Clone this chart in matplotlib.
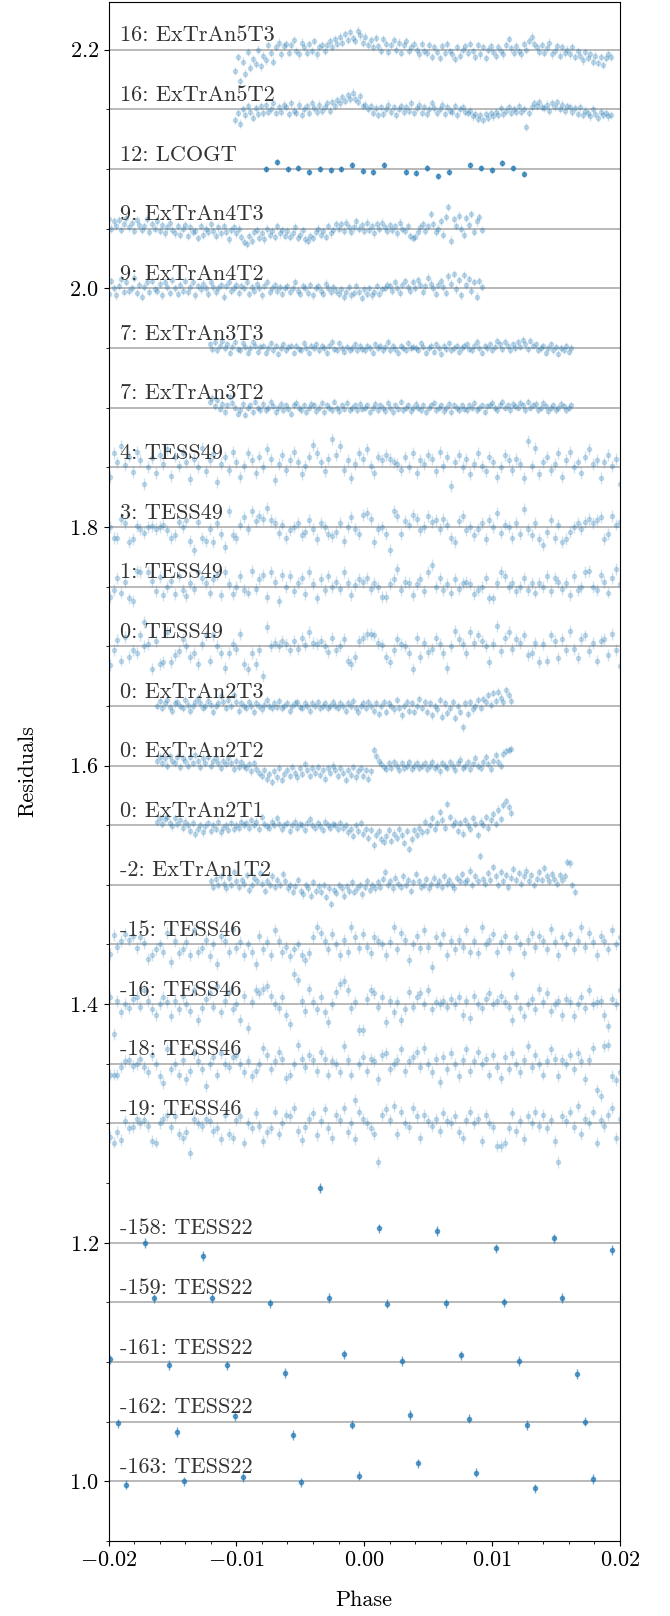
import numpy as np
import matplotlib
matplotlib.use("Agg")
import matplotlib.pyplot as plt
from matplotlib.ticker import MultipleLocator

plt.rcParams['font.family'] = ['cmr10', 'DejaVu Serif']
plt.rcParams['mathtext.fontset'] = 'cm'
plt.rcParams['axes.formatter.use_mathtext'] = True
plt.rcParams['font.size'] = 16

# residuals in ppt (1e-3)
ex5t3 = [-18, -6, -26, -10, -20, -2, -15, -8,
         -12, 0, -14, -5, -9, 4, -3, -10, 2, 6, -4, 3,
         5, -3, 4, 8, -1, -4, 6, 2, -3, 5, -1, 7, -4, 2, 4,
         -1, 4, 7, 2, 9, 5, 11, 6, 13, 8, 15, 10, 7, 16, 12, 6, 11, 4,
         8, 2, 10, 3, -1, 9, 5, -2, 4, 8, 0, 6, -3, 4, 7, -1, 2, 5,
         0, -4, 5, -1, -3, 4, -6, 2, -2, -7, 3, -3, 5, -1, -4, -8, 2, -5, 0, 3,
         -3, 5, -1, -6, 4, -4, 2, -7, 0, 3, -2, -5, 2, -1, -4, 4, 9, 1, -3, 3,
         -1, -4, 5, 0, 7, 11, 5, 2, -2, 4, -3, 1, 6, -4, -1, 3, -5, 2, -3, 0,
         -4, 2, -6, -1, -5, -9, -2, -7, -4, -10, -5, -11, -6, -13, -7, -4, -6]
ex5t2 = [-9, -3, -12, 0, -5, 3, -2, -7,
         1, -4, 3, -3, 4, -2, 0, 5, -3, 2, -2, 4,
         2, -4, 5, -1, -3, 4, -5, 0, 3, -3, 5, 1, -2, 4, -1,
         2, 5, -1, 6, 3, 8, 5, 10, 7, 12, 9, 14, 9, 6, 11, 3, 4, 0,
         3, -3, 1, -5, 2, -4, 0, 4, -2, 2, -5, 0, 3, -2, 2, -1, 5, -3,
         1, 4, -3, 2, -4, 0, 5, 1, -3, 0, 4, -4, 2, -1, -2, 3, -5, 0, 2, -2,
         -3, -1, -6, -4, -8, -5, -9, -4, -7, -3, -6, -2, -5, 1, -4, -1, 2, -3, 0, -2,
         3, -2, 0, -15, -3, 2, 5, 3, 6, 2, 1, 4, -1, 5, 2, 6, 0, 4, -1, 3,
         2, -2, 1, -4, 2, -5, -1, -3, -6, 0, -4, -7, -2, -5, -3, -6, -5]
lco = [0, 5.6, 0, 1.1, -2.5, 0, -1.1, 0.3, 3.6, -2.0, -2.8, 3.6, np.nan,
       -2.5, -3.6, 0.6, -5.9, -2.5, np.nan, 3.6, 0.6, -0.8, 4.8, 0.8, -4.2]
ex4t3 = [4, 8, 0, 6, 2, 7, -1, 4, 9, 1, 5, -2, 7, 3, -1, 2, 8, -3, 4, 0, 6, -2, 3, -4, 1, 5,
         -1, -4, 2, -5, 0, 3, -6, 1, -3, -2, -8, 2, -5, 0, -3, 4, -2, -6, 1, -4, 2, -3, -9, -1, 1,
         -4, 0, -7, -11, -13, -6, -10, -3, -1, -8, -4, -9, 0, -5, -2, -7, 2, -4, -1, -6,
         -2, -7, -4, 1, -8, -5, -1, -9, -10, -6, -8, -3, 0, -5, -2, -7, 2, -4, -1, 4,
         0, 4, -2, 5, 1, -3, 1, 6, 0, 3, -2, 5, -1, 2, -4, 4, 0, 5, 1, -2,
         3, -1, 2, -4, 5, 0, -2, 2, -6, -8, -7, -3, 1, 4, -2, 2, 12, 4, -3, 0,
         6, -5, 10, 18, -10, 8, 2, 11, 0, -5, 9, 3, 12, -3, 6, 10, -1]
ex4t2 = [3, -5, 6, 0, -6, 2, 8, -3, 5, -2, 0, 9, -4, 3, -7, 1, 5, -3, 6, -1, -2, 4, -6, 5, 1, -4,
         7, 0, -5, 3, -2, 6, -3, 1, 5, -6, 2, -1, 4, 0, -5, 5, 1, -3, 0, 3, -7, 2, 5, -2, 0,
         3, -4, 2, 0, 5, -5, 1, -2, 4, 0, -6, 2, 5, -3, 0, 3, -2, 1, -5, 0,
         2, -3, 0, 5, -2, -5, 2, 0, -4, 3, -6, 0, 2, -2, -5, 4, 0, -3, 1, -2,
         -5, -1, -7, -3, 1, -6, -4, 2, -3, -8, -1, -5, 0, -6, -3, 2, -5, -1, 0, 3,
         2, -2, 5, 0, -4, 3, 6, 1, -2, 5, 0, 7, 3, -3, 2, 9, 4, 0, -5, 3,
         6, 1, -4, 10, 4, 12, -1, 7, -6, 11, 3, 8, -2, 5, -7, 6, 1]
ex3t3 = [3, -1, 5, -2, 2, 6, 0, 3, -4, 1, 5, -1, -2, 4, 1, -4, 0, 5, 2, -3, 1,
         2, -4, 0, 4, -2, 2, -5, 0, 3, -2, 1, 2, -4, 2, -1, -2, 4, 0, -4, 2,
         0, 3, -2, 2, 0, -4, 2, 5, -1, -2, 4, 0, -3, 1, -2, 0, 3, -2, 2, -1,
         -2, 2, 0, -4, 3, 0, 2, -2, 1, 5, -2, 2, -1, -4, 2, 0, -2, 4, 0, 1,
         0, -2, 4, 1, -4, 0, 2, -3, 3, 0, -5, 2, -1, 4, -2, 0, 2, -3, 0, 2,
         3, -1, -2, 2, 5, 0, -4, 2, 0, 3, -2, 1, 6, 3, -1, 5, 2, -2, 3, 0,
         5, 1, 7, 3, -1, 6, 2, 3, -2, 0, 2, -4, 0, 3, -2, 1, -5, 0, -2, 2, -3, 0]
ex3t2 = [5, 8, 1, 6, -1, 3, -4, 2, 9, 4, 0, -5, -2, 3, -6, 0, 2, -4, 5, 0, -2,
         3, -2, 0, 5, 1, -4, 0, 3, -2, 2, -1, -5, 2, 4, 0, -2, 2, -4, 0, 3,
         2, -3, 0, 4, -4, 2, 0, -2, 5, 0, -3, 2, -1, 4, -2, 0, 2, -2, 3, -1,
         0, 2, -4, 0, 3, -2, 2, 0, -3, 4, 0, -4, 2, -1, 5, -2, 0, 2, -3, 0,
         3, 0, -2, 2, -4, 0, 2, 4, -2, 0, 2, -3, 0, 3, -4, 2, 0, -2, 2, -1,
         -2, 2, 0, 4, -2, 0, 2, -4, 1, 2, 4, 0, -2, 2, 5, 0, 2, -2, 3, 1,
         0, 4, 2, -2, 5, 0, 2, 3, -2, 0, 4, 1, -3, 0, 2, -2, 0, 3, 1, -2, 0, 2]
t49_4 = [-8, 12, 4, 18, 2, 9, -4, 13, 6, -14, 0, 8, -5, 10, 3, 15, -7, 9, 1, 12, 4, -10, 7, 0,
         16, -3, 6, 11, -12, 3, 9, -2, 13, 4, -8, 1, 12, 6, -5, 9, 0, 15, 7, -11, 3, 10, -2, 6,
         13, 4, -6, 1, 9, 19, 12, 4, -3, 7, 24, 10, 18, -2, 6, -9, 3, 12, 7, 15, 1, -5, 9, 6, 10,
         7, 4, 3, -2, 9, 0, 12, -5, 6, 3, 10, 7, -3, 13, 1, 9, -16, 4, 10, 0, 7, -6, 3, 12, 1, -3,
         9, 4, -8, 0, 10, 6, -2, 7, 3, -9, 22, 1, 16, -6, 4, 9, -2, 3, 12, -8, 6, 13, 0, 4, -5, 9,
         15, 3, 6, -9, 4, 10, 1, 7, -14]
t49_3 = [0, -9, -9, 7, 3, -13, -10, 1, -2, -5, 0, 1, -2, 0, 2, -3, -9, -7, 4, 0, 6, -12, -19, 4,
         -9, -12, -2, -13, 3, -6, -17, 13, -7, -9, 2, 8, -2, 13, 5, 9, 7, 16, 6, 3, -5, 2, -9, -3,
         0, 3, -7, -4, 6, -2, -10, 3, 0, -6, -8, -4, 3, -12, 0, 8, -2, -6, 10, 12, 7, -13, -2, 0,
         -6, -19, 13, 9, -6, 5, 2, 10, 7, -3, 0, 9, 4, 6, -2, 7, 2, -9, -13, 5, 9, -3, 0, -7, -2,
         3, -10, 6, 0, 12, -5, 2, 0, -9, 3, -6, 15, -2, -7, 3, -10, -15, -4, 6, -9, 2, -13, -10,
         -4, 0, 3, -2, 4, 7, 3, 6, 8, -10, -6, 9, 2, 4]
t49_1 = [-9, -3, 7, -5, 4, -10, -12, 13, 12, -30, 12, 5, -4, 8, -7, 0, 5, -6, 9, -3, -8, 3, -2,
         12, 7, 3, -5, 6, 10, -7, 12, 2, -6, 0, 9, -3, -5, 13, -2, 6, 10, -9, 12, 4, -12, 10, 0,
         9, -4, 3, 7, -6, 12, 2, -10, 6, -3, 9, 0, 4, -2, 12, 3, -7, 1, 6, 4, 7, -2, 3, 0, -9, -9,
         2, 6, 15, -3, 4, 3, -7, 2, 6, -4, 12, 18, 0, 7, -3, 2, -5, 6, -2, 3, 4, 2, -6, -3, 0, 7,
         -10, -10, 3, 12, 9, 0, 3, -4, 0, 7, -3, 3, -5, 3, 0, 9, -4, 7, 4, -2, 3, -7, 9, -3, 0,
         12, 13, 0, -3, 10, 4, -5, 7, 15, 2]
t49_0 = [-16, -3, 5, -12, 8, -9, -3, -6, 9, 0, 2, -19, 4, -15, -13, 12, -13, -7, -4, 6, 0, -9,
         -6, -15, 2, 9, -12, 9, 0, -6, -18, -6, 2, -2, 10, -15, -19, -6, -15, -3, -25, 16, 0, 3, 0,
         4, 2, -3, 4, -2, 7, 1, 12, 3, 2, 4, 0, -5, 7, -3, 0, 6, -12, -15, -9, 4, 7, 10, 10, 9, 3,
         1, -9, -13, -3, 6, 2, 0, -6, -19, 7, -9, 3, -5, -2, 7, 2, -6, -18, 0, 13, 6, 2, -6, 12, 3,
         9, 4, 0, -13, 2, 17, -4, 7, 12, -2, 6, 3, 9, -7, -6, 3, -13, 2, -12, 9, 4, -10, 6, -3,
         13, -2, -10, 6, 9, -4, 3, -12, 4, 6, -7, 10, -3, -17]
ex2t3 = [0, 4, -2, 2, 5, -1, -4, 2, 3, 0, -2, 5, 1, -4, 0, 3, 7, 2, -2, 0, 4, 1, -5, 0, 2, 8, 3,
         -2, 5, 0, 9, 3, -4, 2, 0,
         -2, 3, 0, -5, 2, 0, -3, 1, 5, 0, -2, 2, -1, 4, -2, 0, 2, -4, 0, 2, 3, -1, -2, 2, 0, -4, 2,
         0, 3, -2, 0, 2, -2, 0, 3,
         0, -2, 2, 0, -4, 2, 0, 4, -2, -5, 0, 2, -2, 3, 0, -4, 2, -7, 0, 3, -5, 2, 0, -3, 5, -2,
         -8, 0, 3, -4, 2, -5, 0, 6, -2,
         3, -5, 2, -8, 0, -3, 5, -9, 2, -6, -2, 3, -10, 0, -5, -18, 2, -7, 3, -3, 0, 5, -2, 6, 3,
         9, 1, 11, 4, 12, 7, 3, 13, 9, 4]
ex2t2 = [4, 7, 2, 6, 0, 8, 4, 2, 7, -1, 6, 4, 0, 7, 2, 9, 4, -1, 6, 2, 7, 0, 4, 6, 2, -2, 4, 1,
         6, 2, -3, 4, -1, 3, 0,
         -2, 1, -5, 2, -3, -6, -9, -4, -11, -7, -14, -5, -10, -2, -12, -7, -4, -9, -1, -6, -10,
         -2, -7, 1, -4, -9, -2, -6, -1, -8, -4, -11, -2, -6, 0,
         -4, -9, -2, -6, -12, -4, -8, -1, -10, -5, -2, -9, -4, -11, -5, 13, 8, 4, 1, -1, -3, 2,
         -2, 3, 0, -4, 2, -2, 0, 3, -3, 0, 2, -2, 0,
         2, -3, 0, 3, -2, 0, -5, 2, 0, -2, 3, 0, -4, 2, 5, -2, 0, 3, -3, 1, 6, 0, -2, 3, 7, 1, -3,
         4, 9, 3, 0, 10, 12, 13, 14]
ex2t1 = [3, 6, 1, 5, 7, 2, -1, 6, 1, 4, -2, 3, 0, -5, 2, -7, -3, 0, -6, -1, 2, -5, 0, -3, 3, -6,
         -2, 0, -4, 2, -3, 0, -2, 3, 0,
         2, -2, 4, 0, 3, -3, 7, 1, -1, -2, 3, 0, 6, 1, -3, 0, 2, -5, 0, 3, -2, 1, 0, -4, 2, 5, 0,
         -2, 2, -1, -4, 3, 0, -2, 1,
         0, -3, 2, -2, 0, -6, -3, -9, 0, -5, 2, -7, -3, -11, -4, -17, -8, -5, -12, -14, -9, -4,
         -13, -7, -11, -3, -8, -15, -5, -20, -12, -4, -8, -2, -6,
         3, -5, 0, 6, -3, 2, 11, 4, -2, 18, 7, 0, 3, -5, 2, -7, 4, 0, -3, 6, 1, -8, 3, 0, 7, -2, 4,
         9, 1, 13, 5, 17, 20, 15, 10]
ex1t2 = [3, -2, 5, 0, 7, 1, -3, 6, 0, 11, 3, -2, 4, 1, 8, -4, 0, 6, 3, 10, 1, -5, 3, 0, 7, -2,
         4, 0, 9, 3,
         -3, 0, -6, -1, 4, -5, -8, 0, -3, -9, 2, -5, -1, -6, 0, -10, -3, -16, -4, -7, 0, -3, -9,
         -1, -5, 2, -6, -3, 0, -8, -2, 3, -4, 0, -3,
         2, -2, 5, 11, 0, 3, -3, 6, 1, -2, 7, 0, 4, -5, 2, 9, 3, -2, 0, 5, -3, 1, 6, 0, 3, -2, 7,
         1, 4, 0, -3, 6, 3, 9, 2,
         4, 12, 0, 7, 3, 24, 5, 1, 10, 4, 15, 7, 0, 11, 3, 8, -2, 6, 13, 4, 10, 1, 7, 12, 3, 8, 0,
         5, 11, 4, 14, 7, 3, 9, 5, 1, 8, 4, 7, 19, 18, 0, -6]
t46_15 = [-8, 8, -2, 3, 9, 4, 7, -3, 6, 1, -12, -9, -4, 0, -6, 10, -15, 3, -7, -4, 2, -9, 12, -6,
          -3, 4, -10, 0, -16, 7, 3, -6, 13, -3, 2, -9, 0, -6, -16, 7, -4, 2, -9, 12, 3, -6, -2,
          -10, -4, 0, -9, -13, -7, 6, 15, 10, 3, -4, 9, 0, -9, 4, -6, 15, 6, -3, 9, -2, -7, 6, 3,
          0, -9, 2, 15, -4, 10, 4, -13, 0, 7, -3, 12, -2, -19, 6, 0, 9, -9, 3, -4, 4, -2, 12, -6,
          3, -7, 15, 0, 4, 9, -6, 2, 7, -3, -25, 6, 0, -7, 4, 10, -2, 7, 3, -4, 13, 2, -9, 6, 0, 9,
          -4, 3, 15, -2, 10, 2, -9, 7, 3, -4, 12, 0, 6]
t46_16 = [6, -25, 3, -7, 0, -3, 4, 6, -2, 12, 3, -4, -9, 0, 6, 2, -10, 3, -4, 7, 0, -6, 12, -13,
          -3, 4, 9, -2, 15, -7, 3, 10, -4, 0, -13, 7, -20, 2, 12, 9, 13, 15, 7, 0, -3, 6, -9, -17,
          25, 20, 3, -6, 13, 2, -4, 6, -7, -15, 0, 10, 17, 19, 12, -3, 2, -22, -22, 4, 12, 9, -2,
          6, -15, 3, -7, 2, -13, -4, 10, -2, 6, 9, 0, 12, -4, 2, 0, 3, -2, 4, 0, 6, -9, 3, -12, 7,
          0, -3, 4, 9, 0, 3, 7, 2, -2, -13, 6, -3, -10, 0, 4, -4, 13, 2, 9, -6, 0, 3, -9, 4, 2, -10,
          0, 6, -3, 12, 0, 2, 3, -9, -18, 4, 0, 12]
t46_18 = [-9, -9, -9, -3, 2, 3, -2, 0, 4, -3, -7, 7, 0, -10, -16, 12, -4, 0, -9, 3, -13, -6, 9, 2,
          -4, -19, 0, 6, -9, 9, 0, -3, 6, 7, 0, -7, 2, -10, -6, 0, 13, 7, -4, 2, 10, 4, -12, -9, 0,
          16, 4, -3, 7, 3, -6, 10, 4, -9, 2, 0, -7, 15, 3, -9, -30, 0, 6, -6, 4, 2, -13, 7, 9, -4,
          0, 3, 12, -6, 2, 6, 10, -3, 13, 0, -7, 4, -15, 6, -4, 9, 0, -10, 3, 12, -6, 2, 10, 0, 4,
          -9, 7, -3, -12, 6, -4, 9, 0, -7, 3, 15, -3, 7, 0, -9, 2, 12, 4, -10, 3, 0, 7, -4, 9, 2,
          -13, 3, 13, -22, -27, 15, 16, -10, -14, -7]
t46_19 = [-11, -16, -7, -14, 2, -4, -3, 4, 0, 3, -2, -15, -16, 0, 4, 7, -3, 6, -9, -12, -7, -25,
          4, 0, -2, 4, 2, -6, -4, -13, 7, -9, -12, 3, 6, -16, 0, -4, 9, -2, -15, -7, -4, 10, -9, 0,
          7, 6, 13, -6, -14, -3, 4, 9, -10, 2, 12, -4, -12, 7, 3, 13, -7, 0, -13, 10, 4, 0, -4, -9,
          -32, 7, 12, 3, 15, -9, 10, 0, -3, 13, 6, -12, 7, 2, -2, 4, -6, 9, 2, 0, 6, -7, -12, 3, 10,
          0, 4, -15, 7, 0, -3, -19, -19, -16, -4, 9, -6, 2, -13, 6, 0, 10, -2, 7, -4, 3, -15, -32,
          6, 2, 10, -3, 15, -9, 4, 0, 10, -16, 3, -2, 7, 13, -12, 4]
t22_158 = [0, -11.2, np.nan, 46, 12, 9.8, -4.8, 3.6, -6.1]
t22_159 = [3.4, 3.6, -0.8, 3.6, -1.1, -0.8, 0, 3.6]
t22_161 = [2.2, -2.5, -2.8, -9.2, 6.4, 0.8, 5.6, 0.8, -10.1]
t22_162 = [-1.4, -8.4, 4.5, -11.2, -2.5, 5.6, 2.5, -2.8, 0]
t22_163 = [-2.8, 0, 3.4, -0.8, 4.8, 15.1, 7.3, -5.9, 2.2]

# label, offset, residuals, first phase, last phase, error (ppt), dark
rows = [
    ("16: ExTrAn5T3", 2.20, ex5t3, -0.0101, 0.0193, 3.5, False),
    ("16: ExTrAn5T2", 2.15, ex5t2, -0.0101, 0.0193, 3.5, False),
    ("12: LCOGT", 2.10, lco, -0.00767, 0.01249, 2.5, True),
    ("9: ExTrAn4T3", 2.05, ex4t3, -0.0202, 0.0092, 3.5, False),
    ("9: ExTrAn4T2", 2.00, ex4t2, -0.0202, 0.0092, 3.5, False),
    ("7: ExTrAn3T3", 1.95, ex3t3, -0.0121, 0.0162, 3.0, False),
    ("7: ExTrAn3T2", 1.90, ex3t2, -0.0121, 0.0162, 3.0, False),
    ("4: TESS49", 1.85, t49_4, -0.0199, 0.0200, 5.0, False),
    ("3: TESS49", 1.80, t49_3, -0.0199, 0.0200, 5.0, False),
    ("1: TESS49", 1.75, t49_1, -0.0199, 0.0200, 5.0, False),
    ("0: TESS49", 1.70, t49_0, -0.0199, 0.0200, 5.0, False),
    ("0: ExTrAn2T3", 1.65, ex2t3, -0.0162, 0.0115, 3.5, False),
    ("0: ExTrAn2T2", 1.60, ex2t2, -0.0162, 0.0115, 3.5, False),
    ("0: ExTrAn2T1", 1.55, ex2t1, -0.0162, 0.0115, 3.5, False),
    ("-2: ExTrAn1T2", 1.50, ex1t2, -0.0120, 0.0165, 3.5, False),
    ("-15: TESS46", 1.45, t46_15, -0.0199, 0.0200, 5.0, False),
    ("-16: TESS46", 1.40, t46_16, -0.0199, 0.0200, 5.0, False),
    ("-18: TESS46", 1.35, t46_18, -0.0199, 0.0200, 5.0, False),
    ("-19: TESS46", 1.30, t46_19, -0.0199, 0.0200, 5.0, False),
    ("-158: TESS22", 1.20, t22_158, -0.01714, 0.01942, 4.0, True),
    ("-159: TESS22", 1.15, t22_159, -0.01648, 0.01552, 4.0, True),
    ("-161: TESS22", 1.10, t22_161, -0.01987, 0.01669, 4.0, True),
    ("-162: TESS22", 1.05, t22_162, -0.01924, 0.01732, 4.0, True),
    ("-163: TESS22", 1.00, t22_163, -0.01865, 0.01791, 4.0, True),
]

fig = plt.figure(figsize=(6.7, 16.16), dpi=100)
ax = fig.add_axes([0.162, 0.0464, 0.763, 0.9524])

for label, off, vals, x0, x1, err, dark in rows:
    y = np.array(vals, dtype=float) * 1e-3 + off
    x = np.linspace(x0, x1, len(y))
    ax.axhline(off, color='0.68', lw=1.2, zorder=1)
    ax.errorbar(x, y, yerr=err * 1e-3, fmt='o', color='C0', ms=3, elinewidth=1,
                alpha=0.65 if dark else 0.22, zorder=2)
    ax.text(-0.0191, off + 0.007, label, color='#333333', fontsize=16,
            va='baseline', zorder=3)

ax.set_xlim(-0.02, 0.02)
ax.set_ylim(0.95, 2.24)
ax.xaxis.set_major_locator(MultipleLocator(0.01))
ax.xaxis.set_minor_locator(MultipleLocator(0.002))
ax.yaxis.set_major_locator(MultipleLocator(0.2))
ax.yaxis.set_minor_locator(MultipleLocator(0.05))
ax.set_xlabel("Phase")
ax.set_ylabel("Residuals")
ax.xaxis.set_label_coords(0.5, -0.032)
ax.yaxis.set_label_coords(-0.14, 0.5)

fig.savefig("out.png", dpi=100)
